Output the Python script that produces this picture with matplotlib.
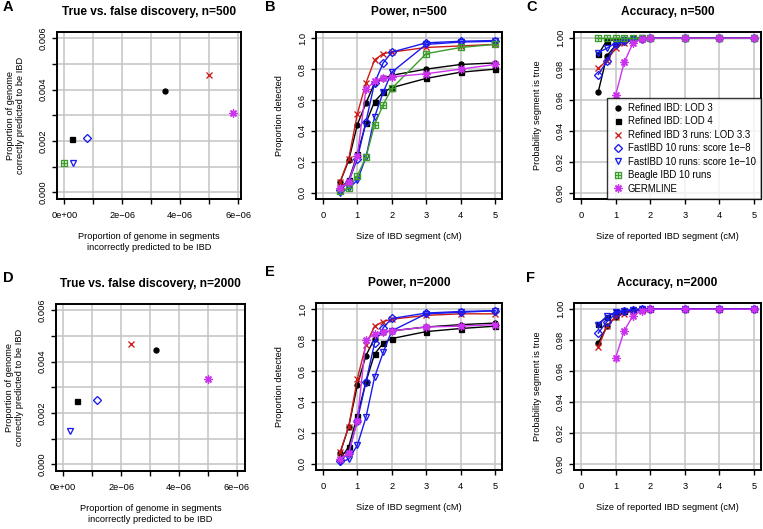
import numpy as np
import matplotlib
matplotlib.use("Agg")
import matplotlib.pyplot as plt
from matplotlib.path import Path
from matplotlib.lines import Line2D

plt.rcParams['font.family'] = ['Liberation Sans', 'DejaVu Sans']

# series names (legend order)
metodos = ["Refined IBD: LOD 3", "Refined IBD: LOD 4", "Refined IBD 3 runs: LOD 3.3",
           "FastIBD 10 runs: score 1e\u22128", "FastIBD 10 runs: score 1e\u221210",
           "Beagle IBD 10 runs", "GERMLINE"]

# segment sizes (cM)
tam = [0.5, 0.75, 1, 1.25, 1.5, 1.75, 2, 3, 4, 5]

# A / D: false discovery (x) vs true discovery (y)
falso500 = [3.46e-6, 0.28e-6, 5.0e-6, 0.79e-6, 0.29e-6, 0.0, 5.81e-6]
cierto500 = [0.00394, 0.00206, 0.00456, 0.00212, 0.00113, 0.00114, 0.00308]
falso2000 = [3.22e-6, 0.48e-6, 2.33e-6, 1.15e-6, 0.23e-6, np.nan, 5.01e-6]
cierto2000 = [0.00446, 0.00246, 0.00469, 0.00249, 0.00131, np.nan, 0.00333]

# B: power n=500
pot500_lod3 = [0.07, 0.21, 0.44, 0.58, 0.71, 0.74, 0.76, 0.80, 0.83, 0.84]
pot500_lod4 = [0.03, 0.08, 0.25, 0.45, 0.59, 0.65, 0.68, 0.74, 0.78, 0.80]
pot500_ref3 = [0.07, 0.22, 0.51, 0.71, 0.86, 0.90, 0.91, 0.94, 0.95, 0.96]
pot500_fast8 = [0.02, 0.07, 0.22, 0.46, 0.71, 0.84, 0.91, 0.97, 0.98, 0.985]
pot500_fast10 = [0.00, 0.03, 0.08, 0.23, 0.49, 0.65, 0.78, 0.96, 0.975, 0.98]
pot500_beagle = [0.01, 0.03, 0.11, 0.23, 0.44, 0.57, 0.675, 0.90, 0.94, 0.96]
pot500_germ = [0.03, 0.07, 0.24, 0.67, 0.72, 0.74, 0.75, 0.77, 0.80, 0.83]

# E: power n=2000 (no Beagle)
pot2000_lod3 = [0.07, 0.24, 0.51, 0.70, 0.81, 0.85, 0.86, 0.885, 0.90, 0.91]
pot2000_lod4 = [0.03, 0.11, 0.31, 0.53, 0.71, 0.78, 0.81, 0.855, 0.875, 0.89]
pot2000_ref3 = [0.075, 0.24, 0.55, 0.77, 0.89, 0.92, 0.935, 0.96, 0.97, 0.97]
pot2000_fast8 = [0.02, 0.07, 0.28, 0.53, 0.78, 0.88, 0.94, 0.975, 0.985, 0.99]
pot2000_fast10 = [0.01, 0.03, 0.12, 0.30, 0.56, 0.72, 0.86, 0.97, 0.98, 0.99]
pot2000_germ = [0.03, 0.07, 0.28, 0.80, 0.84, 0.855, 0.86, 0.885, 0.89, 0.90]

# C: accuracy n=500
prec500_lod3 = [0.9653, 0.9885, 0.9955, 0.998, 0.999, 0.9995, 1.0, 1.0, 1.0, 1.0]
prec500_lod4 = [0.9895, 0.9985, 0.999, 0.9995, 1.0, 1.0, 1.0, 1.0, 1.0, 1.0]
prec500_ref3 = [0.9805, 0.9855, 0.9935, 0.9968, 0.999, 0.9995, 1.0, 1.0, 1.0, 1.0]
prec500_fast8 = [0.9765, 0.985, 0.996, 0.998, 0.999, 0.9995, 1.0, 1.0, 1.0, 1.0]
prec500_fast10 = [0.9907, 0.9935, 0.997, 0.999, 0.9995, 1.0, 1.0, 1.0, 1.0, 1.0]
prec500_beagle = [1.0, 1.0, 1.0, 1.0, 1.0, 1.0, 1.0, 1.0, 1.0, 1.0]
prec500_germ = [np.nan, np.nan, 0.963, 0.9844, 0.9967, 0.9995, 1.0, 1.0, 1.0, 1.0]

# F: accuracy n=2000
prec2000_lod3 = [0.978, 0.989, 0.995, 0.998, 0.999, 0.9995, 1.0, 1.0, 1.0, 1.0]
prec2000_lod4 = [0.9905, 0.995, 0.998, 0.999, 0.9995, 1.0, 1.0, 1.0, 1.0, 1.0]
prec2000_ref3 = [0.9755, 0.989, 0.995, 0.997, 0.999, 0.9995, 1.0, 1.0, 1.0, 1.0]
prec2000_fast8 = [0.9845, 0.992, 0.997, 0.999, 0.9995, 1.0, 1.0, 1.0, 1.0, 1.0]
prec2000_fast10 = [0.990, 0.9955, 0.998, 0.999, 0.9995, 1.0, 1.0, 1.0, 1.0, 1.0]
prec2000_germ = [np.nan, np.nan, 0.9684, 0.986, 0.9957, 0.999, 1.0, 1.0, 1.0, 1.0]

# square with a plus inside (like R pch 12)
cuadro_mas = Path([(-1, -1), (1, -1), (1, 1), (-1, 1), (-1, -1), (-1, 0), (1, 0), (0, -1), (0, 1)],
                  [Path.MOVETO, Path.LINETO, Path.LINETO, Path.LINETO, Path.CLOSEPOLY,
                   Path.MOVETO, Path.LINETO, Path.MOVETO, Path.LINETO])

colores = ["black", "black", "#cc1a1a", "#1a1aee", "#1a1aee", "#3c9c2c", "#cc33ee"]
marcadores = ["o", "s", "x", "D", "v", cuadro_mas, (8, 2, 0)]
tamanos = [3.6, 3.6, 4.5, 4.2, 5.0, 4.8, 5.8]
rellenos = ["black", "black", "none", "none", "none", "none", "none"]

W, H = 763, 529
fig = plt.figure(figsize=(W / 100, H / 100), dpi=100)


def caja(izq, der, arriba, abajo):
    return fig.add_axes([izq / W, 1 - abajo / H, (der - izq) / W, (abajo - arriba) / H])


def estilo(ax, titulo, letra, xlab, ylab, ly):
    ax.grid(True, color="#c4c4c4", linewidth=1.1)
    ax.set_axisbelow(True)
    for s in ax.spines.values():
        s.set_linewidth(1.4)
    ax.tick_params(direction="out", length=3.5, width=1, labelsize=6.7)
    ax.tick_params(axis="x", pad=5)
    ax.tick_params(axis="y", pad=3)
    plt.setp(ax.get_yticklabels(), rotation=90, va="center")
    ax.set_title(titulo, fontsize=8.6, fontweight="bold", pad=12)
    ax.set_xlabel(xlab, fontsize=6.7, labelpad=9)
    ax.set_ylabel(ylab, fontsize=6.7, labelpad=10)
    fig.text(letra[0] / W, 1 - ly / H, letra[1], fontsize=10.5, fontweight="bold",
             ha="left", va="center")


def curvas(ax, series):
    for i, y in enumerate(series):
        if y is None:
            continue
        ax.plot(tam, y, color=colores[i], linewidth=1.0, marker=marcadores[i],
                markersize=tamanos[i], markerfacecolor=rellenos[i],
                markeredgecolor=colores[i], markeredgewidth=0.95)


def dispersion(ax, fx, fy):
    for i in range(len(metodos)):
        ax.plot([fx[i]], [fy[i]], linestyle="none", marker=marcadores[i],
                markersize=tamanos[i], markerfacecolor=rellenos[i],
                markeredgecolor=colores[i], markeredgewidth=0.95)
    ax.set_xticks(np.arange(0, 7e-6, 1e-6))
    ax.set_xticklabels(["0e+00", "", "2e\u221206", "", "4e\u221206", "", "6e\u221206"])
    ax.set_yticks(np.arange(0, 0.0061, 0.001))
    ax.set_yticklabels(["0.000", "", "0.002", "", "0.004", "", "0.006"])
    ax.set_ylim(-0.00026, 0.00624)


xl_disp = "Proportion of genome in segments\nincorrectly predicted to be IBD"
yl_disp = "Proportion of genome\ncorrectly predicted to be IBD"

# ---- fila de arriba (n=500)
axA = caja(57, 241, 32, 199)
dispersion(axA, falso500, cierto500)
axA.set_xlim(-0.255e-6, 6.1e-6)
estilo(axA, "True vs. false discovery, n=500", (3, "A"), xl_disp, yl_disp, 7)

axB = caja(316, 502, 32, 199)
curvas(axB, [pot500_lod3, pot500_lod4, pot500_ref3, pot500_fast8, pot500_fast10,
             pot500_beagle, pot500_germ])
axB.set_xlim(-0.2, 5.2)
axB.set_ylim(-0.04, 1.04)
axB.set_yticks([0, 0.2, 0.4, 0.6, 0.8, 1.0])
axB.set_yticklabels(["0.0", "0.2", "0.4", "0.6", "0.8", "1.0"])
estilo(axB, "Power, n=500", (265, "B"), "Size of IBD segment (cM)", "Proportion detected", 7)

axC = caja(574, 761, 32, 199)
curvas(axC, [prec500_lod3, prec500_lod4, prec500_ref3, prec500_fast8, prec500_fast10,
             prec500_beagle, prec500_germ])
axC.set_xlim(-0.2, 5.2)
axC.set_ylim(0.896, 1.004)
axC.set_yticks([0.90, 0.92, 0.94, 0.96, 0.98, 1.00])
axC.set_yticklabels(["0.90", "0.92", "0.94", "0.96", "0.98", "1.00"])
estilo(axC, "Accuracy, n=500", (526, "C"), "Size of reported IBD segment (cM)",
       "Probability segment is true", 7)

manijas = [Line2D([], [], linestyle="none", marker=marcadores[i], markersize=tamanos[i],
                  markerfacecolor=rellenos[i], markeredgecolor=colores[i], markeredgewidth=0.95)
           for i in range(len(metodos))]
leg = axC.legend(manijas, metodos, loc="lower right", fontsize=6.9, frameon=True,
                 fancybox=False, borderaxespad=0, handlelength=1.2, handletextpad=0.4,
                 labelspacing=0.36, borderpad=0.55)
leg.get_frame().set_edgecolor("black")
leg.get_frame().set_linewidth(1.0)

# ---- fila de abajo (n=2000)
axD = caja(56, 245, 304, 471)
dispersion(axD, falso2000, cierto2000)
axD.set_xlim(-0.25e-6, 6.28e-6)
estilo(axD, "True vs. false discovery, n=2000", (3, "D"), xl_disp, yl_disp, 278)

axE = caja(316, 502, 303, 470)
curvas(axE, [pot2000_lod3, pot2000_lod4, pot2000_ref3, pot2000_fast8, pot2000_fast10,
             None, pot2000_germ])
axE.set_xlim(-0.2, 5.2)
axE.set_ylim(-0.04, 1.04)
axE.set_yticks([0, 0.2, 0.4, 0.6, 0.8, 1.0])
axE.set_yticklabels(["0.0", "0.2", "0.4", "0.6", "0.8", "1.0"])
estilo(axE, "Power, n=2000", (265, "E"), "Size of IBD segment (cM)", "Proportion detected", 272)

axF = caja(574, 761, 303, 470)
curvas(axF, [prec2000_lod3, prec2000_lod4, prec2000_ref3, prec2000_fast8, prec2000_fast10,
             None, prec2000_germ])
axF.set_xlim(-0.2, 5.2)
axF.set_ylim(0.896, 1.004)
axF.set_yticks([0.90, 0.92, 0.94, 0.96, 0.98, 1.00])
axF.set_yticklabels(["0.90", "0.92", "0.94", "0.96", "0.98", "1.00"])
estilo(axF, "Accuracy, n=2000", (526, "F"), "Size of reported IBD segment (cM)",
       "Probability segment is true", 278)

fig.savefig("out.png", dpi=100)
